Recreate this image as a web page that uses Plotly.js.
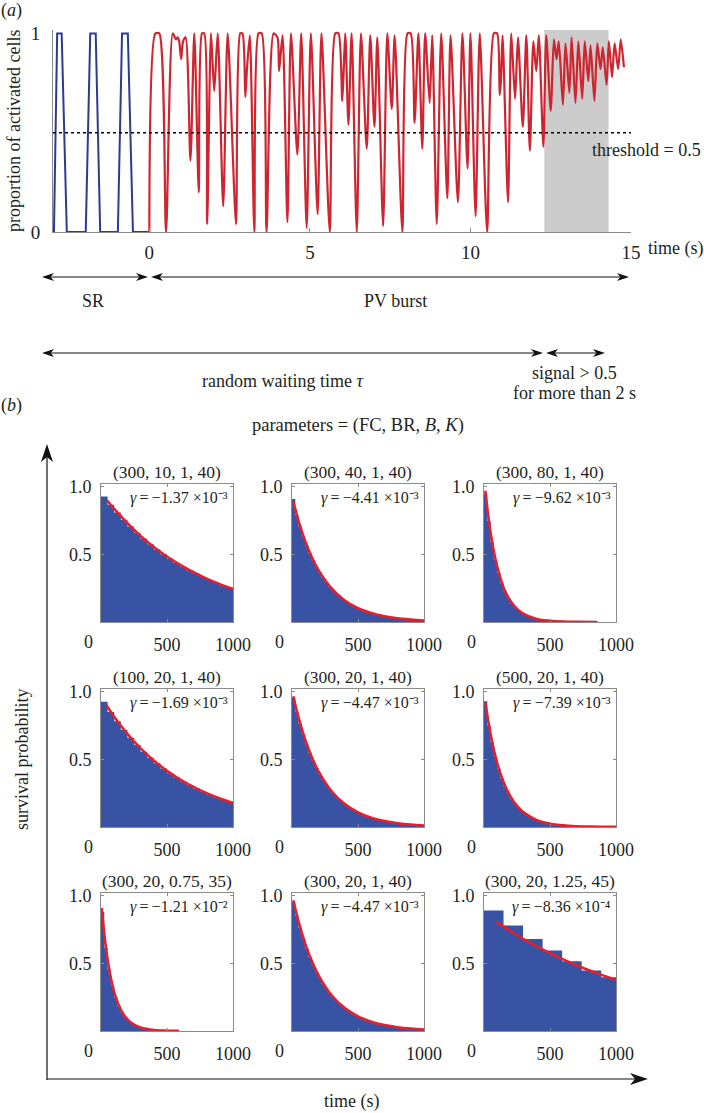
<!DOCTYPE html>
<html><head><meta charset="utf-8">
<script src="https://cdn.plot.ly/plotly-3.0.1.min.js"></script>
<style>html,body{margin:0;padding:0;background:#fff}#chart{width:704px;height:1113px}</style>
</head><body><div id="chart"></div>
<script>
// ---------- Panel (a) data ----------
const tSR = [-2.97,-2.87,-2.73,-2.57,-1.98,-1.84,-1.67,-1.53,-0.98,-0.85,-0.67,-0.51,0];
const ySR = [0,1,1,0,0,1,1,0,0,1,1,0,0];
const tPV = [0.00,0.19,0.31,0.52,0.73,0.83,0.88,0.93,0.99,1.05,1.13,1.28,1.40,1.54,1.64,1.71,1.80,1.92,2.02,2.13,2.30,2.44,2.70,2.83,2.90,2.99,3.04,3.13,3.27,3.40,3.50,3.65,3.87,3.99,4.04,4.15,4.30,4.41,4.61,4.73,4.90,5.03,5.24,5.36,5.62,5.79,5.89,6.01,6.10,6.20,6.30,6.46,6.59,6.77,6.88,7.01,7.10,7.28,7.41,7.55,7.64,7.88,8.04,8.14,8.26,8.38,8.50,8.59,8.73,8.81,8.95,9.09,9.28,9.38,9.61,9.75,9.91,10.00,10.16,10.29,10.52,10.73,10.83,10.91,10.95,11.00,11.17,11.27,11.39,11.48,11.63,11.74,11.85,11.96,12.05,12.13,12.27,12.36,12.50,12.60,12.68,12.75,12.88,12.96,13.08,13.15,13.27,13.36,13.48,13.56,13.67,13.74,13.86,13.95,14.05,14.12,14.24,14.31,14.41,14.49,14.60,14.68,14.78];
const yPV = [0.00,1.00,1.00,0.00,1.00,0.97,0.98,0.96,0.87,0.96,0.98,0.36,1.00,0.20,1.00,1.00,0.04,1.00,0.71,1.00,0.13,1.00,0.04,1.00,1.00,0.68,0.82,0.99,0.00,1.00,1.00,0.00,1.00,0.98,0.81,0.99,0.05,1.00,0.39,1.00,0.02,1.00,0.09,1.00,0.00,1.00,1.00,0.66,1.00,0.54,1.00,0.00,1.00,0.42,0.99,0.53,0.98,0.03,1.00,0.62,0.99,0.00,1.00,1.00,0.55,1.00,0.42,1.00,0.65,0.99,0.04,1.00,0.17,0.99,0.15,1.00,0.32,1.00,0.08,1.00,0.00,1.00,1.00,0.69,0.76,0.99,0.15,1.00,0.67,0.98,0.53,0.99,0.41,0.96,0.81,0.99,0.43,0.99,0.61,0.97,0.87,0.96,0.64,0.95,0.70,0.98,0.65,0.96,0.67,0.96,0.76,0.94,0.66,0.95,0.82,0.93,0.74,0.96,0.78,0.95,0.82,0.97,0.83];
const threshold = 0.5;
const signalWindow = [12.3, 14.3];
const xTicksA = [0,5,10,15];
const yTicksA = [0,1];

// ---------- Panel (b) data ----------
const params = ['(300, 10, 1, 40)','(300, 40, 1, 40)','(300, 80, 1, 40)',
                '(100, 20, 1, 40)','(300, 20, 1, 40)','(500, 20, 1, 40)',
                '(300, 20, 0.75, 35)','(300, 20, 1, 40)','(300, 20, 1.25, 45)'];
const gammaValues = ['−1.37 ×10⁻³','−4.41 ×10⁻³','−9.62 ×10⁻³',
                     '−1.69 ×10⁻³','−4.47 ×10⁻³','−7.39 ×10⁻³',
                     '−1.21 ×10⁻²','−4.47 ×10⁻³','−8.36 ×10⁻⁴'];

const edges50 = [0,50,100,150,200,250,300,350,400,450,500,550,600,650,700,750,800,850,900,950,1000];
const edgesMix = [0,25,50,75,100,125,150,175,200,225,250,275,300,325,350,375,400,425,450,475,500,550,600,650,700,750,800,850,900,950,1000];
const edges25to500 = [0,25,50,75,100,125,150,175,200,225,250,275,300,325,350,375,400,425,450,475,500];
const edges25to400 = [0,25,50,75,100,125,150,175,200,225,250,275,300,325,350,375,400];
const edgesWide = [0,148,296,444,592,740,888,1000];

const surv1 = [0.928,0.866,0.809,0.755,0.705,0.659,0.615,0.574,0.536,0.501,0.468,0.437,0.408,0.381,0.356,0.332,0.310,0.290,0.270,0.252];
const fitT1 = [45,100,150,200,300,400,500,600,700,800,900,1000];
const fitY1 = [0.900,0.837,0.782,0.730,0.636,0.555,0.484,0.422,0.368,0.321,0.280,0.244];

const surv2 = [0.910,0.789,0.706,0.632,0.566,0.507,0.454,0.406,0.365,0.326,0.292,0.261,0.234,0.210,0.188,0.168,0.151,0.135,0.121,0.108,0.092,0.073,0.060,0.047,0.038,0.031,0.024,0.020,0.016,0.013];
const fitT2 = [10,50,100,150,200,300,400,500,600,700,800,900,1000];
const fitY2 = [0.890,0.746,0.598,0.480,0.385,0.248,0.159,0.102,0.066,0.042,0.027,0.018,0.011];

const surv3 = [0.949,0.746,0.587,0.461,0.363,0.285,0.224,0.176,0.139,0.109,0.086,0.067,0.053,0.042,0.033,0.026,0.020,0.016,0.0125,0.0098];
const fitT3 = [10,25,50,75,100,150,200,250,300,400,500,600,700,860];
const fitY3 = [0.97,0.84,0.66,0.52,0.41,0.25,0.156,0.097,0.060,0.023,0.009,0.003,0.001,0.0003];

const surv4 = [0.925,0.850,0.781,0.718,0.660,0.606,0.557,0.512,0.471,0.432,0.397,0.365,0.336,0.308,0.283,0.260,0.239,0.220,0.202,0.186];
const fitT4 = [40,100,150,200,300,400,500,600,700,800,900,1000];
const fitY4 = [0.902,0.815,0.749,0.688,0.581,0.491,0.415,0.350,0.296,0.250,0.211,0.178];

const surv5 = [0.955,0.854,0.764,0.683,0.611,0.546,0.489,0.437,0.391,0.349,0.312,0.279,0.250,0.223,0.200,0.179,0.160,0.143,0.128,0.114,0.097,0.077,0.062,0.049,0.040,0.032,0.025,0.020,0.016,0.013];
const fitT5 = [10,50,100,150,200,300,400,500,600,700,800,900,1000];
const fitY5 = [0.966,0.808,0.646,0.517,0.413,0.264,0.169,0.108,0.069,0.044,0.028,0.018,0.0116];

const surv6 = [0.930,0.750,0.624,0.519,0.431,0.358,0.298,0.248,0.206,0.171,0.142,0.118,0.098,0.082,0.068,0.057,0.047,0.039,0.032,0.027,0.020,0.014,0.0098,0.0068,0.0047,0.0032,0.0022,0.0015,0.0011,0.0007];
const fitT6 = [10,50,100,150,200,250,300,400,500,600,700,800,900,1000];
const fitY6 = [0.92,0.686,0.472,0.327,0.226,0.156,0.108,0.051,0.0246,0.0118,0.0056,0.0027,0.0013,0.0006];

const surv7 = [0.88,0.614,0.454,0.335,0.248,0.183,0.135,0.100,0.074,0.055,0.040,0.030,0.022,0.016,0.012,0.009];
const fitT7 = [5,25,50,75,100,150,200,250,300,400,500,590];
const fitY7 = [0.91,0.715,0.528,0.390,0.288,0.157,0.086,0.047,0.026,0.0077,0.0023,0.0008];

const surv8 = [0.955,0.854,0.764,0.683,0.611,0.546,0.489,0.437,0.391,0.349,0.312,0.279,0.250,0.223,0.200,0.179,0.160,0.143,0.128,0.114,0.097,0.077,0.062,0.049,0.040,0.032,0.025,0.020,0.016,0.013];
const fitT8 = [10,50,100,150,200,300,400,500,600,700,800,900,1000];
const fitY8 = [0.966,0.808,0.646,0.517,0.413,0.264,0.169,0.108,0.069,0.044,0.028,0.018,0.0116];

const surv9 = [0.89,0.78,0.68,0.595,0.516,0.447,0.398];
const fitT9 = [95,200,300,400,500,600,700,800,900,1000];
const fitY9 = [0.806,0.739,0.679,0.625,0.575,0.529,0.486,0.447,0.411,0.378];

const panels = [
  {edges: edges50, surv: surv1, ft: fitT1, fy: fitY1},
  {edges: edgesMix, surv: surv2, ft: fitT2, fy: fitY2},
  {edges: edges25to500, surv: surv3, ft: fitT3, fy: fitY3},
  {edges: edges50, surv: surv4, ft: fitT4, fy: fitY4},
  {edges: edgesMix, surv: surv5, ft: fitT5, fy: fitY5},
  {edges: edgesMix, surv: surv6, ft: fitT6, fy: fitY6},
  {edges: edges25to400, surv: surv7, ft: fitT7, fy: fitY7},
  {edges: edgesMix, surv: surv8, ft: fitT8, fy: fitY8},
  {edges: edgesWide, surv: surv9, ft: fitT9, fy: fitY9}
];

// ---------- Styling / layout ----------
const W = 704, H = 1113;
const px = x => x / W, py = y => 1 - y / H;
const FONT = 'Liberation Serif, serif';
const TXT = '#231f20';
const AXC = '#8a8a8a';
const BLUE_A = '#2d3a94', RED_A = '#cf2530';
const BLUE_B = '#3953a4', RED_B = '#e4202c';
const F = (s) => ({family: FONT, size: s, color: TXT});

const traces = [];
traces.push({x: tSR, y: ySR, mode: 'lines', line: {color: BLUE_A, width: 2}, xaxis: 'x', yaxis: 'y', hoverinfo: 'skip'});
traces.push({x: tPV, y: yPV, mode: 'lines', line: {color: RED_A, width: 2.2, shape: 'spline', smoothing: 0.7}, xaxis: 'x', yaxis: 'y', hoverinfo: 'skip'});

const layout = {
  width: W, height: H, margin: {l: 0, r: 0, t: 0, b: 0},
  paper_bgcolor: '#fff', plot_bgcolor: 'rgba(0,0,0,0)',
  showlegend: false,
  font: F(18),
  xaxis: {domain: [px(53), px(631)], range: [-3, 15], tickvals: xTicksA, ticks: 'inside', ticklen: 4, tickcolor: AXC,
          showline: true, linecolor: AXC, linewidth: 1, zeroline: false, showgrid: false, tickfont: F(19), anchor: 'y', ticklabelstandoff: 3},
  yaxis: {domain: [py(232), py(30)], range: [0, 1.017], tickvals: yTicksA, ticks: '', showline: true, linecolor: AXC, linewidth: 1,
          zeroline: false, showgrid: false, tickfont: F(19), anchor: 'x', ticklabelstandoff: 8},
  shapes: [], annotations: []
};

layout.shapes.push({type: 'rect', xref: 'x', yref: 'y', x0: signalWindow[0], x1: signalWindow[1], y0: 0, y1: 1.017,
                    fillcolor: '#cccccc', line: {width: 0}, layer: 'below'});
layout.shapes.push({type: 'line', xref: 'x', yref: 'y', x0: -3, x1: 15, y0: threshold, y1: threshold,
                    line: {color: '#000', width: 1.5, dash: 'dot'}});

const A = layout.annotations, S = layout.shapes;
function txt(x, y, text, opts) {
  A.push(Object.assign({xref: 'paper', yref: 'paper', x: px(x), y: py(y), text: text, showarrow: false,
    xanchor: 'center', yanchor: 'middle', font: F(18)}, opts || {}));
}
function head(tx, ty, dx, dy, L, hw) {
  const nx = -dy, ny = dx;
  const bx = tx - dx * L, by = ty - dy * L;
  const mx = tx - dx * L * 0.72, my = ty - dy * L * 0.72;
  const pts = [[tx, ty], [bx + nx * hw, by + ny * hw], [mx, my], [bx - nx * hw, by - ny * hw]];
  const d = 'M ' + pts.map(p => px(p[0]).toFixed(5) + ',' + py(p[1]).toFixed(5)).join(' L ') + ' Z';
  S.push({type: 'path', xref: 'paper', yref: 'paper', path: d, fillcolor: '#111', line: {width: 0}});
}
function arrow(x1, y1, x2, y2, both, L, hw) {
  L = L || 12; hw = hw || 4;
  const len = Math.hypot(x2 - x1, y2 - y1), dx = (x2 - x1) / len, dy = (y2 - y1) / len;
  const s = {type: 'line', xref: 'paper', yref: 'paper', x0: px(x1), y0: py(y1), x1: px(x2 - dx * L * 0.7), y1: py(y2 - dy * L * 0.7),
          line: {color: '#111', width: 1.2}};
  if (both) { s.x0 = px(x1 + dx * L * 0.7); s.y0 = py(y1 + dy * L * 0.7); head(x1, y1, -dx, -dy, L, hw); }
  S.push(s);
  head(x2, y2, dx, dy, L, hw);
}

// panel (a) texts
txt(11, 11, '(<i>a</i>)', {font: F(18)});
txt(14, 131, 'proportion of activated cells', {textangle: -90, font: F(18)});
txt(703, 150, 'threshold = 0.5', {xanchor: 'right', font: F(18)});
txt(676, 248, 'time (s)', {font: F(18)});
arrow(42, 277, 148, 277, true);
arrow(151, 277, 629, 277, true);
txt(93, 301, 'SR');
txt(395, 301, 'PV burst');
arrow(42, 353, 543, 353, true);
arrow(546, 353, 605, 353, true);
txt(282, 381, 'random waiting time <i>τ</i>');
txt(574, 373, 'signal > 0.5');
txt(574, 393, 'for more than 2 s');

// panel (b) texts
txt(11, 406, '(<i>b</i>)', {font: F(18)});
txt(358, 425, 'parameters = (FC, BR, <i>B</i>, <i>K</i>)', {font: F(18.5)});
txt(22, 760, 'survival probability', {textangle: -90});
txt(352, 1101, 'time (s)');
arrow(47, 1080, 47, 444, false, 18, 6);
arrow(47, 1079, 648, 1079, false, 18, 6);

const colX = [[101, 233], [292, 424], [484, 616]];
const rowY = [[484, 622], [689, 827], [893, 1031]];

panels.forEach((p, i) => {
  const c = i % 3, r = Math.floor(i / 3);
  const xn = 'x' + (i + 2), yn = 'y' + (i + 2);
  const xs = p.edges.slice();
  const ys = p.surv.concat([p.surv[p.surv.length - 1]]);
  traces.push({x: xs, y: ys, mode: 'lines', line: {shape: 'hv', width: 0, color: BLUE_B}, fill: 'tozeroy', fillcolor: BLUE_B,
               xaxis: xn, yaxis: yn, hoverinfo: 'skip'});
  traces.push({x: p.ft, y: p.fy, mode: 'lines', line: {shape: 'spline', color: RED_B, width: 2.6}, xaxis: xn, yaxis: yn, hoverinfo: 'skip'});
  layout['xaxis' + (i + 2)] = {domain: [px(colX[c][0]), px(colX[c][1])], range: [0, 1000], tickvals: [500, 1000],
    ticks: 'inside', ticklen: 3, tickcolor: AXC, showline: true, mirror: 'ticks', linecolor: AXC, linewidth: 1,
    zeroline: false, showgrid: false, anchor: yn, tickfont: F(18), ticklabelstandoff: 6};
  layout['yaxis' + (i + 2)] = {domain: [py(rowY[r][1]), py(rowY[r][0])], range: [0, 1.02], tickvals: [0.5, 1.0], ticktext: ['0.5', '1.0'],
    ticks: 'inside', ticklen: 3, tickcolor: AXC, showline: true, mirror: 'ticks', linecolor: AXC, linewidth: 1,
    zeroline: false, showgrid: false, anchor: xn, tickfont: F(18), ticklabelstandoff: 5};
  txt((colX[c][0] + colX[c][1]) / 2, rowY[r][0] - 12, params[i], {font: F(17.5)});
  txt(colX[c][1] - 3, rowY[r][0] + 14, '<i>γ</i>\u2009=\u2009' + gammaValues[i], {xanchor: 'right', font: F(16)});
  txt(colX[c][0] - 13, rowY[r][1] + 20, '0', {font: F(18)});
});

Plotly.newPlot('chart', traces, layout, {staticPlot: true, displayModeBar: false});
</script>
</body></html>
